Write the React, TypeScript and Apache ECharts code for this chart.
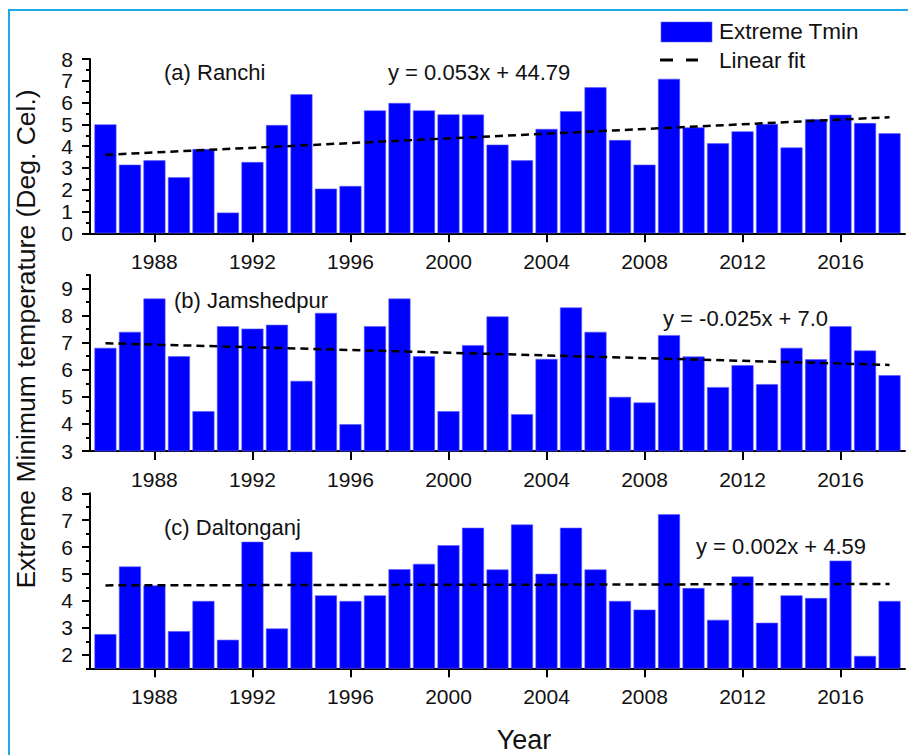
import React, { useEffect, useRef } from "react";
import * as echarts from "echarts";

const years: number[] = Array.from({ length: 33 }, (_, i) => 1986 + i);
const ranchi = [5.0, 3.15, 3.35, 2.57, 3.87, 0.95, 3.27, 4.97, 6.38, 2.05, 2.17, 5.64, 5.98, 5.64, 5.46, 5.45, 4.07, 3.35, 4.79, 5.6, 6.7, 4.28, 3.15, 7.09, 4.86, 4.13, 4.68, 5.02, 3.94, 5.24, 5.44, 5.06, 4.59];
const jamshedpur = [6.81, 7.4, 8.63, 6.5, 4.47, 7.61, 7.52, 7.66, 5.59, 8.1, 3.99, 7.61, 8.63, 6.5, 4.47, 6.91, 7.97, 4.36, 6.4, 8.3, 7.4, 5.0, 4.79, 7.28, 6.49, 5.36, 6.17, 5.47, 6.81, 6.39, 7.61, 6.71, 5.8];
const daltonganj = [2.77, 5.28, 4.58, 2.88, 4.0, 2.56, 6.2, 2.98, 5.83, 4.21, 4.0, 4.21, 5.18, 5.38, 6.07, 6.72, 5.17, 6.84, 5.01, 6.72, 5.17, 4.0, 3.68, 7.22, 4.48, 3.3, 4.91, 3.19, 4.21, 4.11, 5.5, 1.96, 4.0];
const fitRanchi = [3.6, 5.33];
const fitJamshedpur = [6.98, 6.18];
const fitDaltonganj = [4.58, 4.63];
const fitYears = [1986, 2018];
const xTickYears = [1988, 1992, 1996, 2000, 2004, 2008, 2012, 2016];
const panelNames = ["(a) Ranchi", "(b) Jamshedpur", "(c) Daltonganj"];
const equations = ["y = 0.053x + 44.79", "y = -0.025x + 7.0", "y = 0.002x + 4.59"];
const yRanges = [
  { min: 0, max: 8 },
  { min: 3, max: 9.5 },
  { min: 1.5, max: 8 },
];
const yMajor = [
  [0, 1, 2, 3, 4, 5, 6, 7, 8],
  [3, 4, 5, 6, 7, 8, 9],
  [2, 3, 4, 5, 6, 7, 8],
];
const yMinor = [
  [0.5, 1.5, 2.5, 3.5, 4.5, 5.5, 6.5, 7.5],
  [3.5, 4.5, 5.5, 6.5, 7.5, 8.5, 9.5],
  [1.5, 2.5, 3.5, 4.5, 5.5, 6.5, 7.5],
];
const legendBar = "Extreme Tmin";
const legendLine = "Linear fit";
const yTitle = "Extreme Minimum temperature (Deg. Cel.)";
const xTitle = "Year";

const FONT = '"Liberation Sans", Arial, sans-serif';

export default function App() {
  const ref = useRef<HTMLDivElement>(null);
  useEffect(() => {
    if (!ref.current) return;
    const chart = echarts.init(ref.current, null, { renderer: "svg" });
    const seriesData = [ranchi, jamshedpur, daltonganj];
    const fits = [fitRanchi, fitJamshedpur, fitDaltonganj];
    const grids = [
      { left: 90, width: 815, top: 59, height: 174.3 },
      { left: 90, width: 815, top: 275, height: 176 },
      { left: 90, width: 815, top: 493.3, height: 175 },
    ];
    const xAxes = grids.map((_, i) => ({
      type: "value",
      gridIndex: i,
      min: 1985.37,
      max: 2018.63,
      axisLine: { show: true, onZero: false, lineStyle: { color: "#000", width: 2 } },
      axisTick: { show: true, customValues: xTickYears, length: 9, lineStyle: { color: "#000", width: 2 } },
      axisLabel: {
        show: true,
        customValues: xTickYears,
        formatter: (v: number) => String(v),
        fontSize: 21,
        color: "#111",
        fontFamily: FONT,
        margin: 18,
      },
      splitLine: { show: false },
    }));
    const mainY = grids.map((_, i) => ({
      type: "value",
      gridIndex: i,
      position: "left",
      min: yRanges[i].min,
      max: yRanges[i].max,
      axisLine: { show: true, onZero: false, lineStyle: { color: "#000", width: 2 } },
      axisTick: { show: true, customValues: yMajor[i], length: 8, lineStyle: { color: "#000", width: 2 } },
      axisLabel: { show: true, customValues: yMajor[i], fontSize: 21, color: "#111", fontFamily: FONT, margin: 17 },
      splitLine: { show: false },
    }));
    const minorY = grids.map((_, i) => ({
      type: "value",
      gridIndex: i,
      position: "left",
      min: yRanges[i].min,
      max: yRanges[i].max,
      axisLine: { show: false },
      axisTick: { show: true, customValues: yMinor[i], length: 4, lineStyle: { color: "#000", width: 2 } },
      axisLabel: { show: false },
      splitLine: { show: false },
    }));
    const series: any[] = [];
    seriesData.forEach((d, i) => {
      series.push({
        type: "bar",
        name: legendBar,
        xAxisIndex: i,
        yAxisIndex: i,
        data: years.map((y, k) => [y, d[k]]),
        barWidth: 22,
        itemStyle: { color: "#0000FF", borderColor: "#5a5aff", borderWidth: 0.6 },
      });
      series.push({
        type: "line",
        name: legendLine,
        xAxisIndex: i,
        yAxisIndex: i,
        data: fitYears.map((y, k) => [y, fits[i][k]]),
        symbol: "none",
        z: 5,
        lineStyle: { color: "#000", width: 2.5, type: [8, 5] },
      });
    });
    const textStyle = (fs: number) => ({ fontSize: fs, fontFamily: FONT, fill: "#111" });
    const labelPos = [
      { nx: 164, ny: 72, ex: 388, ey: 72 },
      { nx: 174, ny: 300, ex: 663, ey: 318 },
      { nx: 164, ny: 527, ex: 696, ey: 546 },
    ];
    const graphics: any[] = [
      {
        type: "rect",
        shape: { x: 9, y: 10, width: 910, height: 760 },
        style: { fill: "none", stroke: "#1EA8E6", lineWidth: 2 },
        z: 100,
      },
      {
        type: "rect",
        shape: { x: 661, y: 22, width: 51, height: 20 },
        style: { fill: "#0000FF", stroke: "#5a5aff", lineWidth: 0.6 },
      },
      { type: "text", x: 719, y: 31, style: { ...textStyle(22.5), text: legendBar, verticalAlign: "middle", align: "left" } },
      { type: "line", shape: { x1: 660, y1: 60, x2: 673, y2: 60 }, style: { stroke: "#000", lineWidth: 3 } },
      { type: "line", shape: { x1: 686, y1: 60, x2: 698, y2: 60 }, style: { stroke: "#000", lineWidth: 3 } },
      { type: "text", x: 719, y: 60, style: { ...textStyle(22.5), text: legendLine, verticalAlign: "middle", align: "left" } },
      {
        type: "text",
        x: 26,
        y: 339,
        rotation: Math.PI / 2,
        style: { ...textStyle(26.5), text: yTitle, align: "center", verticalAlign: "middle" },
      },
      { type: "text", x: 524, y: 740, style: { ...textStyle(27), text: xTitle, align: "center", verticalAlign: "middle" } },
    ];
    labelPos.forEach((p, i) => {
      graphics.push({ type: "text", x: p.nx, y: p.ny, style: { ...textStyle(22), text: panelNames[i], verticalAlign: "middle", align: "left" } });
      graphics.push({ type: "text", x: p.ex, y: p.ey, style: { ...textStyle(22), text: equations[i], verticalAlign: "middle", align: "left" } });
    });
    chart.setOption({
      animation: false,
      backgroundColor: "#fff",
      grid: grids,
      xAxis: xAxes,
      yAxis: [...mainY, ...minorY],
      series,
      graphic: graphics,
    });
    return () => chart.dispose();
  }, []);
  return <div ref={ref} style={{ position: "fixed", left: 0, top: 0, width: 908, height: 755 }} />;
}
